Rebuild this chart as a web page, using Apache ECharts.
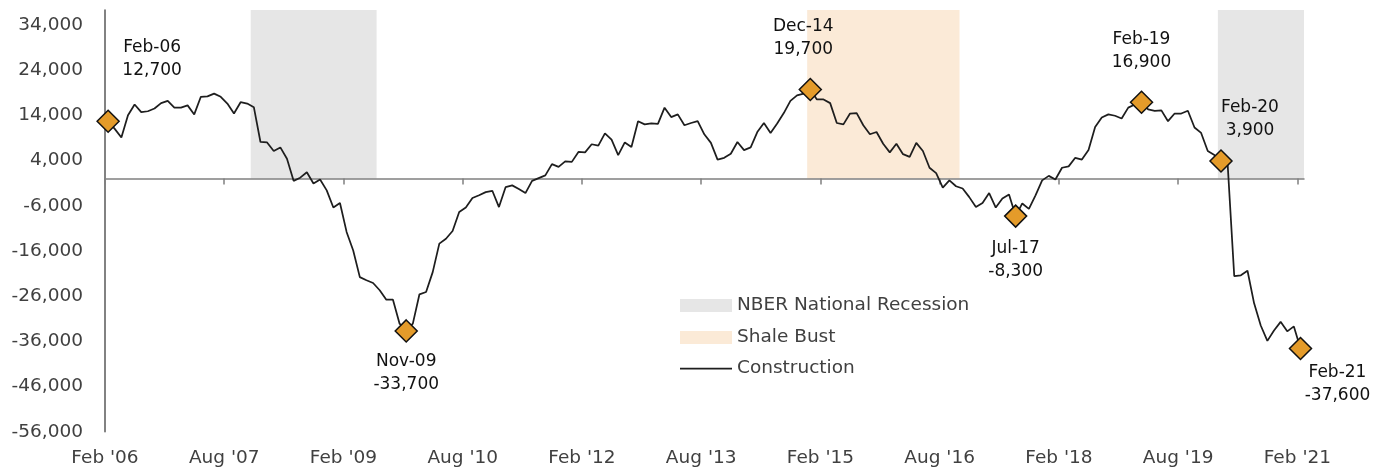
<!DOCTYPE html>
<html lang="en">
  <head>
    <meta charset="UTF-8" />
    <title>Construction jobs</title>
    <script src="https://cdn.jsdelivr.net/npm/echarts@6/dist/echarts.min.js"></script>
    <style>
      html, body { margin: 0; padding: 0; background: #fff; }
      #main { width: 1386px; height: 471px; }
    </style>
  </head>
  <body>
    <div id="main"></div>
  </body>
  <script>
    // monthly change, Feb 2006 .. Feb 2021 (index 0 = Feb 2006)
    const construction = [
      12700, 11000, 9100, 14000, 16400, 14700, 14900, 15500, 16700, 17200, 15700, 15700,
      16200, 14200, 18100, 18200, 18800, 18100, 16600, 14400, 16900, 16600, 15800, 8100,
      8000, 6100, 6900, 4400, -500, 200, 1400, -1100, -200, -2600, -6400, -5400,
      -11800, -15900, -21800, -22500, -23100, -24700, -26800, -26800, -32100, -33700, -32100, -25600,
      -25100, -20700, -14400, -13300, -11600, -7400, -6400, -4300, -3700, -3000, -2700, -6300,
      -1900, -1500, -2300, -3200, -500, 100, 700, 3200, 2600, 3800, 3700, 5900,
      5800, 7600, 7300, 10000, 8600, 5200, 8000, 7000, 12700, 12000, 12200, 12100,
      15700, 13600, 14200, 11800, 12300, 12700, 9800, 7900, 4200, 4600, 5500, 8100,
      6300, 6900, 10300, 12300, 10100, 12200, 14500, 17200, 18400, 18800, 19700, 17500,
      17500, 16700, 12300, 12000, 14400, 14500, 11800, 9800, 10300, 7700, 5800, 7700,
      5400, 4800, 7900, 6100, 2400, 1200, -2000, -400, -1700, -2200, -4100, -6300,
      -5400, -3200, -6400, -4400, -3500, -8300, -5500, -6700, -3700, -400, 600, -200,
      2400, 2700, 4600, 4200, 6300, 11400, 13500, 14200, 13900, 13300, 15700, 16400,
      16900, 15300, 15000, 15100, 12700, 14400, 14400, 15000, 11300, 10100, 6100, 5200,
      3900, 3300, -21600, -21400, -20400, -27600, -32500, -35900, -33600, -31700, -33800, -32700,
      -37600,
    ];
    // x axis labels, every 18 months
    const tickIdx = [0, 18, 36, 54, 72, 90, 108, 126, 144, 162, 180];
    const tickLabels = ["Feb '06", "Aug '07", "Feb '09", "Aug '10", "Feb '12", "Aug '13", "Feb '15", "Aug '16", "Feb '18", "Aug '19", "Feb '21"];
    const yTicks = [-56000, -46000, -36000, -26000, -16000, -6000, 4000, 14000, 24000, 34000];
    // shaded periods [start month, end month)
    const recessions = [[22, 41], [168, 181]];
    const shaleBust = [[106, 129]];
    // called-out points
    const peakIdx = [0, 45, 106, 137, 156, 168, 180];
    const peakNames = ["Feb-06", "Nov-09", "Dec-14", "Jul-17", "Feb-19", "Feb-20", "Feb-21"];
    const peakOffsets = [[44, -62], [0, 42], [-7, -51], [0, 44], [0, -51], [29, -42], [37, 36]];

    const font = "DejaVu Sans";
    const yMax = 37300;

    var lineData = construction.map(function (v, i) {
      return [i + 0.47, v];
    });
    var peakData = peakIdx.map(function (idx, k) {
      return {
        value: [idx + 0.47, construction[idx]],
        label: {
          offset: peakOffsets[k],
          formatter: peakNames[k] + "\n" + construction[idx].toLocaleString("en-US"),
        },
      };
    });
    var areas = [];
    recessions.forEach(function (r) {
      areas.push([{ xAxis: r[0], yAxis: 0, itemStyle: { color: "#e6e6e6" } }, { xAxis: r[1], yAxis: yMax }]);
    });
    shaleBust.forEach(function (r) {
      areas.push([{ xAxis: r[0], yAxis: 0, itemStyle: { color: "#fbead7" } }, { xAxis: r[1], yAxis: yMax }]);
    });

    var myChart = echarts.init(document.getElementById("main"));
    var option = {
      animation: false,
      textStyle: { fontFamily: font },
      grid: { left: 105, top: 10, width: 1199, height: 421.7 },
      xAxis: [
        {
          type: "value",
          position: "top",
          min: 0,
          max: 181,
          z: 1,
          axisLine: { onZero: true, lineStyle: { color: "#808080", width: 1.5 } },
          axisTick: { show: true, inside: true, length: 6, customValues: tickIdx, lineStyle: { color: "#808080", width: 1.5 } },
          axisLabel: { show: false },
          splitLine: { show: false },
        },
        {
          type: "value",
          position: "bottom",
          min: 0,
          max: 181,
          axisLine: { show: false, onZero: false },
          axisTick: { show: false },
          splitLine: { show: false },
          axisLabel: {
            customValues: tickIdx,
            margin: 17,
            fontSize: 18.5,
            color: "#404040",
            fontFamily: font,
            formatter: function (v) {
              return tickLabels[tickIdx.indexOf(v)];
            },
          },
        },
      ],
      yAxis: {
        type: "value",
        min: -56000,
        max: yMax,
        axisLine: { show: true, lineStyle: { color: "#595959", width: 1.5 } },
        axisTick: { show: false },
        splitLine: { show: false },
        axisLabel: {
          customValues: yTicks,
          margin: 22,
          fontSize: 18.5,
          color: "#404040",
          fontFamily: font,
          formatter: function (v) {
            return v.toLocaleString("en-US");
          },
        },
      },
      series: [
        {
          type: "line",
          name: "shading",
          data: [],
          z: 0,
          markArea: { silent: true, data: areas },
        },
        {
          type: "line",
          name: "Construction",
          data: lineData,
          showSymbol: false,
          z: 3,
          lineStyle: { color: "#1e1e1e", width: 1.75 },
        },
        {
          type: "scatter",
          name: "peaks",
          data: peakData,
          z: 4,
          symbol: "diamond",
          symbolSize: 22,
          itemStyle: { color: "#e49b2a", borderColor: "#111", borderWidth: 1.5, opacity: 1 },
          label: {
            show: true,
            position: "inside",
            align: "center",
            verticalAlign: "middle",
            fontSize: 17,
            lineHeight: 23,
            color: "#111",
            fontFamily: font,
          },
        },
      ],
      graphic: [
        { type: "rect", left: 680, top: 299, shape: { width: 52, height: 13 }, style: { fill: "#e6e6e6" } },
        { type: "text", x: 737, y: 305.5, style: { text: "NBER National Recession", font: "18.5px '" + font + "'", fill: "#404040", verticalAlign: "middle" } },
        { type: "rect", left: 680, top: 331, shape: { width: 52, height: 13 }, style: { fill: "#fbead7" } },
        { type: "text", x: 737, y: 337.5, style: { text: "Shale Bust", font: "18.5px '" + font + "'", fill: "#404040", verticalAlign: "middle" } },
        { type: "line", shape: { x1: 680, y1: 368.5, x2: 732, y2: 368.5 }, style: { stroke: "#1e1e1e", lineWidth: 1.75 } },
        { type: "text", x: 737, y: 368.5, style: { text: "Construction", font: "18.5px '" + font + "'", fill: "#404040", verticalAlign: "middle" } },
      ],
    };
    myChart.setOption(option);
  </script>
</html>
